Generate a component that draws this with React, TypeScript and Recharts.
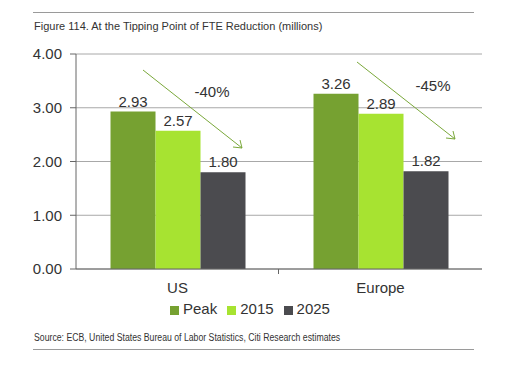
import { BarChart, Bar, XAxis, YAxis, CartesianGrid, Legend, LabelList } from 'recharts';

const regions = ['US', 'Europe'];
const peak = [2.93, 3.26];
const y2015 = [2.57, 2.89];
const y2025 = [1.8, 1.82];
const changes = ['-40%', '-45%'];
const yTicks = [0, 1, 2, 3, 4];
const seriesOrder = ['Peak', '2015', '2025'];

const data = regions.map((r, i) => ({
  region: r,
  Peak: peak[i],
  '2015': y2015[i],
  '2025': y2025[i],
}));

const FONT = '"Liberation Sans", Arial, sans-serif';
const fmt = (v: any) => Number(v).toFixed(2);

export default function App() {
  return (
    <div style={{ position: 'absolute', left: 0, top: 0, width: 530, height: 367, background: '#fff', fontFamily: FONT }}>
      <div style={{ position: 'absolute', left: 33, top: 12, width: 441, borderTop: '1px solid #9a9a9a' }} />
      <div style={{ position: 'absolute', left: 34, top: 20, fontSize: 11, color: '#333' }}>
        Figure 114. At the Tipping Point of FTE Reduction (millions)
      </div>
      <BarChart
        width={530}
        height={367}
        data={data}
        margin={{ top: 54, right: 48, bottom: 68, left: 16 }}
        barCategoryGap="17%"
        barGap={0}
        style={{ fontFamily: FONT }}
      >
        <CartesianGrid vertical={false} stroke="#a8a8a8" />
        <XAxis
          dataKey="region"
          height={30}
          tickLine={false}
          tickMargin={7}
          axisLine={{ stroke: '#666' }}
          tick={{ fontSize: 15, fill: '#333' }}
        />
        <YAxis
          domain={[0, 4]}
          ticks={yTicks}
          width={60}
          tickSize={6}
          tickMargin={8}
          tickFormatter={fmt}
          axisLine={{ stroke: '#666' }}
          tickLine={{ stroke: '#666' }}
          tick={{ fontSize: 15, fill: '#333' }}
        />
        <YAxis yAxisId="r" orientation="right" width={0} tick={false} tickLine={false} axisLine={{ stroke: '#a8a8a8' }} />
        <Legend
          verticalAlign="middle"
          align="center"
          iconType="square"
          iconSize={9}
          itemSorter={(item: any) => seriesOrder.indexOf(String(item.dataKey))}
          wrapperStyle={{ top: 300, left: 130, width: 250, fontSize: 15, color: '#333' }}
          formatter={(v: any) => <span style={{ color: '#333' }}>{v}</span>}
        />
        <Bar dataKey="Peak" fill="#76a131" isAnimationActive={false}>
          <LabelList dataKey="Peak" position="top" formatter={fmt} style={{ fontSize: 15, fill: '#333' }} />
        </Bar>
        <Bar dataKey="2015" fill="#a7e331" isAnimationActive={false}>
          <LabelList dataKey="2015" position="top" formatter={fmt} style={{ fontSize: 15, fill: '#333' }} />
        </Bar>
        <Bar dataKey="2025" fill="#4b4b4f" isAnimationActive={false}>
          <LabelList dataKey="2025" position="top" formatter={fmt} style={{ fontSize: 15, fill: '#333' }} />
        </Bar>
      </BarChart>
      <svg width={530} height={367} style={{ position: 'absolute', left: 0, top: 0, pointerEvents: 'none' }}>
        <line x1={278.5} y1={269} x2={278.5} y2={274} stroke="#666" />
        <line x1={143} y1={70} x2={242} y2={148} stroke="#7aa83a" />
        <polyline points="233,147 242,148 240,140" fill="none" stroke="#7aa83a" />
        <text x={212} y={97} fontSize={15} fill="#333" textAnchor="middle" fontFamily={FONT}>{changes[0]}</text>
        <line x1={357} y1={62} x2={455} y2={139} stroke="#7aa83a" />
        <polyline points="446,138 455,139 453,131" fill="none" stroke="#7aa83a" />
        <text x={433} y={91} fontSize={15} fill="#333" textAnchor="middle" fontFamily={FONT}>{changes[1]}</text>
      </svg>
      <div
        style={{
          position: 'absolute', left: 34, top: 332, fontSize: 10, color: '#333', whiteSpace: 'nowrap',
          transform: 'scaleX(0.87)', transformOrigin: '0 0',
        }}
      >
        Source: ECB, United States Bureau of Labor Statistics, Citi Research estimates
      </div>
      <div style={{ position: 'absolute', left: 33, top: 349, width: 441, borderTop: '1px solid #9a9a9a' }} />
    </div>
  );
}
